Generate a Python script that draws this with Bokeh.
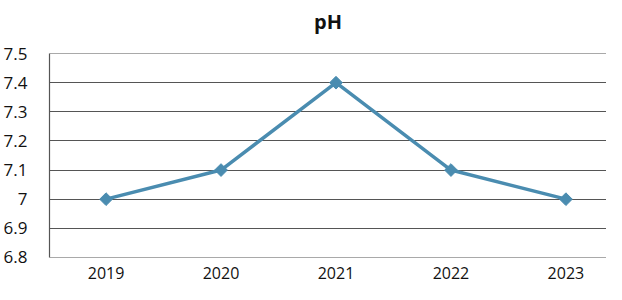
import math
from bokeh.plotting import figure
from bokeh.models import FixedTicker, Range1d, Title
from bokeh.embed import file_html
from bokeh.resources import INLINE

title_text = "pH"
years = [2019, 2020, 2021, 2022, 2023]
ph = [7.0, 7.1, 7.4, 7.1, 7.0]
y_ticks = [6.8, 6.9, 7.0, 7.1, 7.2, 7.3, 7.4, 7.5]

p = figure(width=606, height=284, output_backend="svg", toolbar_location=None,
           x_range=Range1d(2019 - 0.492, 2023 + 0.353), y_range=Range1d(6.7997, 7.5003),
           min_border_left=45, min_border_right=0, min_border_bottom=27, min_border_top=0)
p.outline_line_color = None
p.background_fill_color = "white"

# spacer (closest to frame), then the visible title
p.add_layout(Title(text=" ", text_font_size="6px", standoff=6), "above")
p.add_layout(Title(text=title_text, align="center", offset=-5, standoff=10,
                   text_font="Open Sans", text_font_size="20px", text_font_style="bold",
                   text_color="#111111"), "above")

p.line(years, ph, line_color="#4a8cb0", line_width=3.5)
p.scatter(years, ph, marker="square", angle=math.pi / 4, size=9,
          fill_color="#4a8cb0", line_color="#4a8cb0")

p.xaxis.ticker = FixedTicker(ticks=years)
p.yaxis.ticker = FixedTicker(ticks=y_ticks)
p.yaxis.major_label_overrides = {7.0: "7"}
for ax in (p.xaxis, p.yaxis):
    ax.major_tick_line_color = None
    ax.minor_tick_line_color = None
    ax.major_label_text_font = "Open Sans"
    ax.major_label_text_color = "#111111"
p.yaxis.major_label_text_font_size = "17px"
p.xaxis.major_label_text_font_size = "16px"
p.xaxis.axis_line_color = None
p.yaxis.axis_line_color = "#555555"
p.yaxis.axis_line_width = 1.2
p.yaxis.major_label_standoff = 16
p.xaxis.major_label_standoff = 3
p.xgrid.grid_line_color = None
p.ygrid.grid_line_color = "#555555"
p.ygrid.grid_line_width = 1.2

open("out.html", "w").write(file_html(p, INLINE))
